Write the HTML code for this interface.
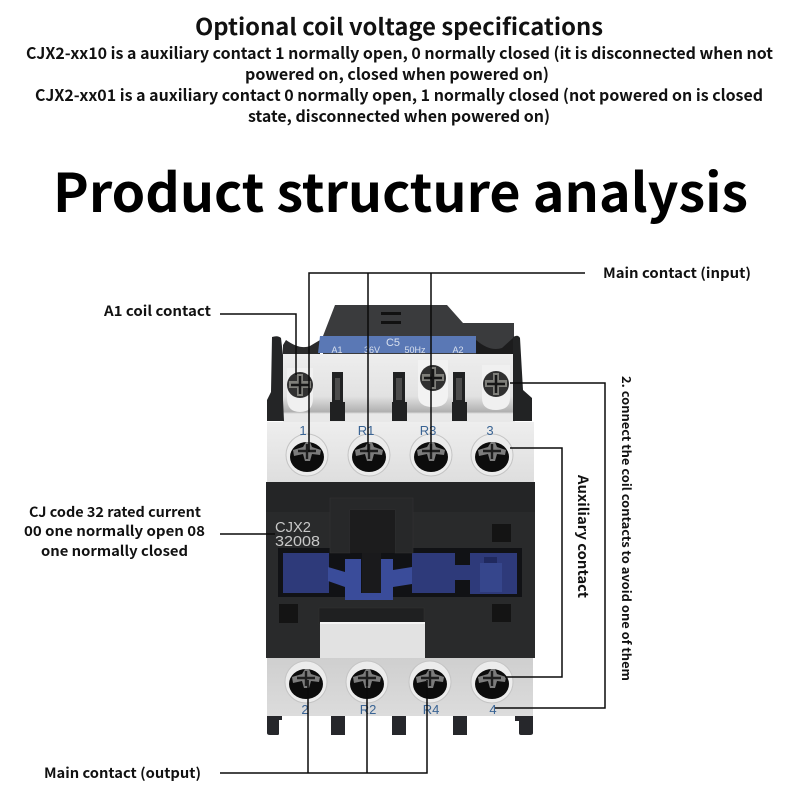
<!DOCTYPE html>
<html><head><meta charset="utf-8"><style>
html,body{margin:0;padding:0;background:#fff;width:800px;height:800px;overflow:hidden}
svg{display:block}
text{font-family:"Noto Sans CJK SC","Liberation Sans",sans-serif;font-weight:700;fill:#111}
text.s{font-family:"Liberation Sans",sans-serif;font-weight:400}
text.w{fill:#d8e0ee}
text.b{fill:#3a6494;font-size:13px}
text.c{fill:#c8c8c8;font-size:15px}
.ln{fill:none;stroke:#0a0a0a;stroke-width:1.5}
</style></head><body>
<svg width="800" height="800" viewBox="0 0 800 800" xmlns="http://www.w3.org/2000/svg">
<defs>
<linearGradient id="tw" x1="0" y1="0" x2="0" y2="1"><stop offset="0" stop-color="#eeeeee"/><stop offset="1" stop-color="#dedede"/></linearGradient>
<linearGradient id="bw" x1="0" y1="0" x2="0" y2="1"><stop offset="0" stop-color="#cfcfcf"/><stop offset="1" stop-color="#dcdcdc"/></linearGradient>
<linearGradient id="uw" x1="0" y1="0" x2="0" y2="1"><stop offset="0" stop-color="#eeeeee"/><stop offset="0.62" stop-color="#e2e2e2"/><stop offset="0.85" stop-color="#b0b0b0"/><stop offset="0.88" stop-color="#e8e8e8"/><stop offset="1" stop-color="#e8e8e8"/></linearGradient>
<g id="sc">
<circle r="21" fill="#ececec" stroke="#c4c4c4"/>
<ellipse rx="17" ry="15" cy="2" fill="#0c0c0c"/>
<path d="M-14,-5 L-4,-8 L-1,-13 L3,-13 L5,-8 L14,-5 L13,0 L5,-1 L3,6 L-2,6 L-4,-1 L-13,1Z" fill="#7c7c7c"/>
<path d="M-9,-4 L9,-4 M0,-11 L0,4" stroke="#1e1e1e" stroke-width="2.4"/>
</g>
<g id="ts">
<circle r="13" fill="#303030"/>
<path d="M-11,-4 L-3,-4 L-3,-11 L3,-11 L3,-4 L11,-4 L11,3 L3,3 L3,11 L-3,11 L-3,3 L-11,3Z" fill="#7f7f7a"/>
<path d="M-9,0 L9,0 M0,-9 L0,9" stroke="#161616" stroke-width="2.5"/>
</g>
</defs>

<!-- Feet -->
<g fill="#26272b">
<path d="M267,716 H282 V720 H279 V734 Q279,735 277,735 H270 Q267,735 267,733Z"/>
<rect x="331" y="716" width="14" height="19"/>
<rect x="392" y="716" width="14" height="19"/>
<rect x="453" y="716" width="14" height="19"/>
<path d="M515,716 H533 V733 Q533,735 530,735 H521 Q519,735 519,733 V721 H515Z"/>
</g>

<!-- top cap -->
<path d="M323,336 L335,305 L447,305 L463,323 L514,323 L514,360 L323,360Z" fill="#3a3b3d"/>
<rect x="381" y="312" width="20" height="3" fill="#111"/>
<rect x="381" y="321" width="20" height="3" fill="#111"/>
<path d="M283,345 L286,340 Q300,350 310,346 L320,340 V360 H283Z" fill="#2b2b2c"/>
<path d="M476,340 Q490,352 502,348 L513,338 V360 H476Z" fill="#1c1c1d"/>

<!-- blue label -->
<path d="M320,336 H476 V353 H318Z" fill="#5a78b5"/>
<text class="s w" x="393" y="346" text-anchor="middle" font-size="11">C5</text>
<text class="s w" x="337" y="353" text-anchor="middle" font-size="9">A1</text>
<text class="s w" x="372" y="353" text-anchor="middle" font-size="9">36V</text>
<text class="s w" x="415" y="353" text-anchor="middle" font-size="9">50Hz</text>
<text class="s w" x="458" y="353" text-anchor="middle" font-size="9">A2</text>

<!-- upper white -->
<rect x="283" y="354" width="232" height="68" fill="url(#uw)"/>
<path d="M287,368 H313 V398 Q313,412 300,412 Q287,412 287,398Z" fill="#f0f0f0"/>
<path d="M418,360 H448 V395 Q448,407 433,407 Q418,407 418,395Z" fill="#f2f2f2"/>
<path d="M482,365 H510 V398 Q510,410 496,410 Q482,410 482,398Z" fill="#f0f0f0"/>
<use href="#ts" x="300" y="385"/>
<use href="#ts" x="433" y="378"/>
<use href="#ts" x="496" y="384"/>
<!-- slots -->
<g fill="#202122">
<rect x="332" y="372" width="11" height="32"/>
<rect x="393" y="372" width="12" height="32"/>
<rect x="453" y="372" width="12" height="32"/>
<rect x="330" y="402" width="15" height="19"/>
<rect x="392" y="402" width="15" height="19"/>
<rect x="452" y="402" width="15" height="19"/>
</g>
<g fill="#4c4c4c"><rect x="335" y="378" width="5" height="22"/><rect x="396" y="378" width="6" height="22"/><rect x="456" y="378" width="6" height="22"/></g>

<!-- side pillars -->
<path d="M272,337 Q278,335 281,338 L283,355 V400 L284,421 H267 V400 L271,392Z" fill="#242526"/>
<path d="M513,337 Q518,334 520,338 L523,390 L532,398 V421 H513Z" fill="#222324"/>

<!-- top terminal -->
<rect x="267" y="422" width="267" height="60" fill="url(#tw)"/>
<use href="#sc" x="307" y="455"/>
<use href="#sc" x="369" y="455"/>
<use href="#sc" x="431" y="455"/>
<use href="#sc" x="492" y="455"/>
<text class="s b" x="303" y="435" text-anchor="middle">1</text>
<text class="s b" x="366" y="435" text-anchor="middle">R1</text>
<text class="s b" x="428" y="435" text-anchor="middle">R3</text>
<text class="s b" x="490" y="435" text-anchor="middle">3</text>

<!-- body -->
<rect x="266" y="482" width="269" height="176" fill="#292a2b"/>
<rect x="266" y="482" width="269" height="30" fill="#242526"/>
<rect x="278" y="548" width="244" height="49" fill="#111215"/>
<rect x="283" y="553" width="46" height="40" fill="#2e3a7a"/>
<rect x="412" y="553" width="43" height="40" fill="#2e3a7a"/>
<rect x="455" y="565" width="15" height="15" fill="#2e3a7a"/>
<rect x="470" y="553" width="47" height="41" fill="#2e3a7a"/>
<rect x="480" y="563" width="22" height="29" fill="#36468c"/>
<rect x="484" y="557" width="13" height="6" fill="#20295e"/>
<!-- top latch -->
<path d="M330,498 H413 V553 H395 V510 H350 V553 H330Z" fill="#272829" stroke="#333" stroke-width="0.6"/>
<rect x="350" y="510" width="45" height="43" fill="#1c1c1d"/>
<!-- blue clip -->
<path d="M345,559 H361 V593 H381 V559 H393 V570 L412,567 V584 L393,587 V600 H345 V587 L328,581 V567 L345,572Z" fill="#3a4c9a"/>
<rect x="362" y="553" width="19" height="40" fill="#1a1a1c"/>
<!-- squares -->
<g fill="#141414">
<rect x="492" y="524" width="19" height="18"/>
<rect x="279" y="604" width="19" height="19"/>
<rect x="492" y="604" width="19" height="18"/>
</g>
<rect x="319" y="608" width="105" height="16" fill="#1f2021" stroke="#333" stroke-width="0.5"/>
<rect x="320" y="622" width="105" height="36" fill="#e2e2e2"/>
<rect x="320" y="622" width="105" height="2" fill="#f4f4f4"/>
<text class="s c" x="275" y="532" textLength="36" lengthAdjust="spacingAndGlyphs">CJX2</text>
<text class="s c" x="275" y="546" textLength="45" lengthAdjust="spacingAndGlyphs">32008</text>

<!-- bottom terminal -->
<rect x="267" y="658" width="266" height="58" fill="url(#bw)"/>
<use href="#sc" x="306" y="682"/>
<use href="#sc" x="367" y="682"/>
<use href="#sc" x="430" y="682"/>
<use href="#sc" x="492" y="682"/>
<text class="s b" x="305" y="714" text-anchor="middle">2</text>
<text class="s b" x="368" y="714" text-anchor="middle">R2</text>
<text class="s b" x="431" y="714" text-anchor="middle">R4</text>
<text class="s b" x="493" y="714" text-anchor="middle">4</text>

<!-- connectors -->
<path class="ln" d="M585,273 H309 V452 M368,273 V452 M431,273 V452"/>
<path class="ln" d="M220,314 H296 V375"/>
<path class="ln" d="M510,383 H605 V708 H495"/>
<path class="ln" d="M510,448 H562 V677 H505"/>
<path class="ln" d="M220,534 H275"/>
<path class="ln" d="M220,773 H427 V680 M308,773 V680 M367,773 V680"/>

<!-- heading text -->
<text x="195" y="35" font-size="23" textLength="408" lengthAdjust="spacingAndGlyphs">Optional coil voltage specifications</text>
<text x="26" y="59" font-size="16" textLength="747" lengthAdjust="spacingAndGlyphs">CJX2-xx10 is a auxiliary contact 1 normally open, 0 normally closed (it is disconnected when not</text>
<text x="245" y="80" font-size="16" textLength="304" lengthAdjust="spacingAndGlyphs">powered on, closed when powered on)</text>
<text x="35" y="101" font-size="16" textLength="728" lengthAdjust="spacingAndGlyphs">CJX2-xx01 is a auxiliary contact 0 normally open, 1 normally closed (not powered on is closed</text>
<text x="248" y="122" font-size="16" textLength="302" lengthAdjust="spacingAndGlyphs">state, disconnected when powered on)</text>
<text x="53" y="212" font-size="53" style="fill:#000" textLength="695" lengthAdjust="spacingAndGlyphs">Product structure analysis</text>

<!-- labels -->
<text x="603" y="278" font-size="14" textLength="148" lengthAdjust="spacingAndGlyphs">Main contact (input)</text>
<text x="104" y="316" font-size="14" textLength="107" lengthAdjust="spacingAndGlyphs">A1 coil contact</text>
<text x="29" y="517" font-size="14" textLength="172" lengthAdjust="spacingAndGlyphs">CJ code 32 rated current</text>
<text x="24" y="536" font-size="14" textLength="181" lengthAdjust="spacingAndGlyphs">00 one normally open 08</text>
<text x="41" y="556" font-size="14" textLength="147" lengthAdjust="spacingAndGlyphs">one normally closed</text>
<text x="44" y="778" font-size="14" textLength="157" lengthAdjust="spacingAndGlyphs">Main contact (output)</text>
<text transform="translate(578,475) rotate(90)" font-size="14" textLength="123" lengthAdjust="spacingAndGlyphs">Auxiliary contact</text>
<text transform="translate(622,376) rotate(90)" font-size="12" textLength="305" lengthAdjust="spacingAndGlyphs">2. connect the coil contacts to avoid one of them</text>
</svg>
</body></html>
